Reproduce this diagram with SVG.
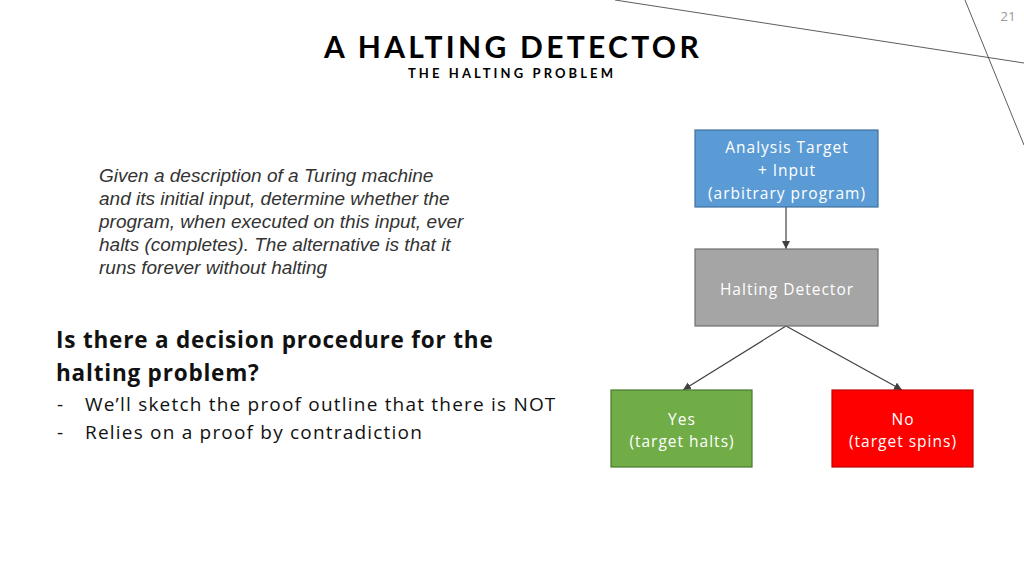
<svg xmlns="http://www.w3.org/2000/svg" width="1024" height="576" viewBox="0 0 1024 576">
<defs>
<marker id="arr" viewBox="0 0 10 10" refX="10" refY="5" markerWidth="8" markerHeight="8" markerUnits="userSpaceOnUse" orient="auto">
<path d="M0,0 L10,5 L0,10 z" fill="#404040"/>
</marker>
<style>
.title{font-family:"Lato",sans-serif;font-weight:bold;fill:#000}
.node text{font-family:"Open Sans",sans-serif;font-size:15.5px;letter-spacing:1px;fill:#fff;text-anchor:middle}
.conn line{stroke:#404040;stroke-width:1.2;marker-end:url(#arr)}
.it{font-family:"Liberation Sans",Arial,sans-serif;font-style:italic;font-size:19px;fill:#333}
.q{font-family:"Open Sans",sans-serif;font-weight:bold;font-size:22.5px;letter-spacing:0.8px;fill:#111}
.b{font-family:"Open Sans",sans-serif;font-size:19px;letter-spacing:1.2px;fill:#111}
</style>
</defs>
<rect width="1024" height="576" fill="#fff"/>
<line x1="615" y1="0" x2="1024" y2="63" stroke="#333" stroke-width="0.8"/>
<line x1="965" y1="0" x2="1024" y2="145" stroke="#333" stroke-width="0.8"/>
<text x="1008" y="21" font-family="Open Sans,sans-serif" font-size="13.5" fill="#999" text-anchor="middle">21</text>
<text class="title" x="513" y="58" font-size="30" text-anchor="middle" letter-spacing="3.3">A HALTING DETECTOR</text>
<text class="title" x="512" y="78" font-size="13" text-anchor="middle" letter-spacing="3.1">THE HALTING PROBLEM</text>
<text class="it"><tspan x="99" y="182">Given a description of a Turing machine</tspan><tspan x="99" y="205">and its initial input, determine whether the</tspan><tspan x="99" y="228">program, when executed on this input, ever</tspan><tspan x="99" y="251">halts (completes). The alternative is that it</tspan><tspan x="99" y="274">runs forever without halting</tspan></text>
<text class="q"><tspan x="56" y="348">Is there a decision procedure for the</tspan><tspan x="56" y="381">halting problem?</tspan></text>
<text class="b"><tspan x="57" y="411">-</tspan><tspan x="85" y="411">We’ll sketch the proof outline that there is NOT</tspan><tspan x="57" y="439">-</tspan><tspan x="85" y="439">Relies on a proof by contradiction</tspan></text>
<g class="conn">
<line x1="786" y1="207" x2="786" y2="249"/>
<line x1="786" y1="326" x2="683" y2="390"/>
<line x1="786" y1="326" x2="902" y2="390"/>
</g>
<g id="target" class="node">
<rect x="695" y="130" width="183" height="77" fill="#5b9bd5" stroke="#41719c" stroke-width="1.2"/>
<text x="787" y="153">Analysis Target</text>
<text x="787" y="176">+ Input</text>
<text x="787" y="199">(arbitrary program)</text>
</g>
<g id="detector" class="node">
<rect x="695" y="249" width="183" height="77" fill="#a5a5a5" stroke="#6f6f6f" stroke-width="1.2"/>
<text x="787" y="295">Halting Detector</text>
</g>
<g id="yes" class="node">
<rect x="611" y="390" width="141" height="77" fill="#70ad47" stroke="#4a7a2e" stroke-width="1.2"/>
<text x="682" y="425">Yes</text>
<text x="682" y="447">(target halts)</text>
</g>
<g id="no" class="node">
<rect x="832" y="390" width="141" height="77" fill="#ff0000" stroke="#c00000" stroke-width="1.2"/>
<text x="903" y="425">No</text>
<text x="903" y="447">(target spins)</text>
</g>
</svg>
